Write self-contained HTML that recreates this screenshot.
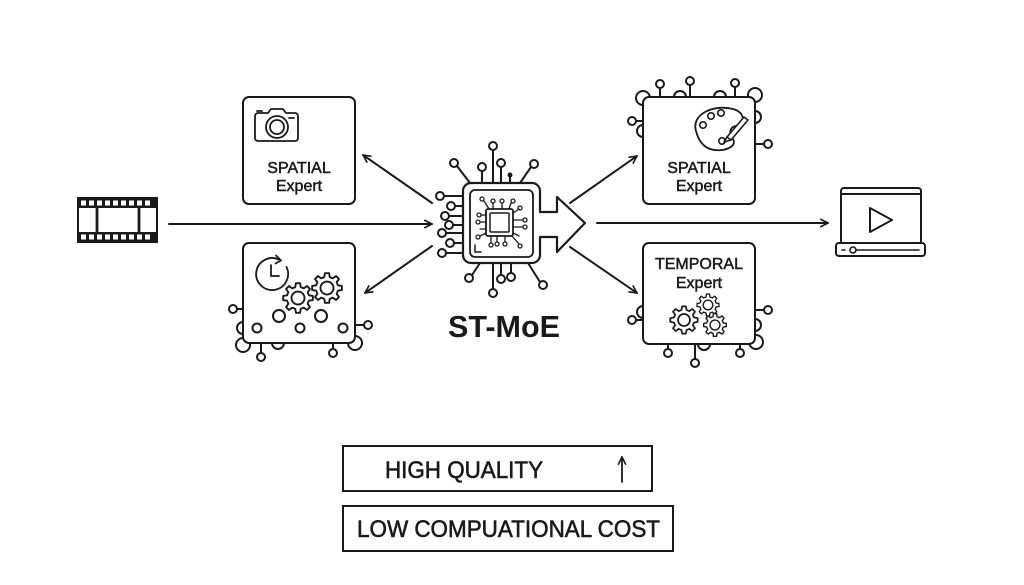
<!DOCTYPE html>
<html><head><meta charset="utf-8"><style>
html,body{margin:0;padding:0;background:#fff;}
svg{display:block;}
text{font-family:"Liberation Sans",sans-serif;fill:#1a1a1a;}
</style></head><body>
<svg width="1024" height="585" viewBox="0 0 1024 585" xmlns="http://www.w3.org/2000/svg">
<defs>
<marker id="ah" viewBox="0 0 10 10" refX="9" refY="5" markerWidth="9" markerHeight="9" markerUnits="userSpaceOnUse" orient="auto">
<path d="M1,1 L9,5 L1,9" fill="none" stroke="#1a1a1a" stroke-width="1.8" stroke-linecap="round" stroke-linejoin="round"/>
</marker>
<g id="gear">
<polygon points="8.73,-2.18 11.88,-1.67 11.88,1.67 8.73,2.18 7.71,4.64 9.58,7.22 7.22,9.58 4.64,7.71 2.18,8.73 1.67,11.88 -1.67,11.88 -2.18,8.73 -4.64,7.71 -7.22,9.58 -9.58,7.22 -7.71,4.64 -8.73,2.18 -11.88,1.67 -11.88,-1.67 -8.73,-2.18 -7.71,-4.64 -9.58,-7.22 -7.22,-9.58 -4.64,-7.71 -2.18,-8.73 -1.67,-11.88 1.67,-11.88 2.18,-8.73 4.64,-7.71 7.22,-9.58 9.58,-7.22 7.71,-4.64" fill="#fff" stroke="#1a1a1a" stroke-width="1.5" stroke-linejoin="round"/>
<circle cx="0" cy="0" r="5.2" fill="#fff" stroke="#1a1a1a" stroke-width="1.5"/>
</g>
</defs>

<g fill="none" stroke="#1a1a1a" stroke-width="2" stroke-linecap="round">

<!-- Film strip -->
<rect x="78" y="198" width="79" height="44" fill="#fff" stroke-width="2"/>
<rect x="78" y="198" width="79" height="10" fill="#1a1a1a" stroke="none"/>
<rect x="78" y="232" width="79" height="10" fill="#1a1a1a" stroke="none"/>
<g fill="#fff" stroke="none">
<rect x="81" y="200.5" width="5" height="5"/><rect x="89" y="200.5" width="5" height="5"/><rect x="97" y="200.5" width="5" height="5"/><rect x="105" y="200.5" width="5" height="5"/><rect x="113" y="200.5" width="5" height="5"/><rect x="121" y="200.5" width="5" height="5"/><rect x="129" y="200.5" width="5" height="5"/><rect x="137" y="200.5" width="5" height="5"/><rect x="145" y="200.5" width="5" height="5"/>
<rect x="81" y="234.5" width="5" height="5"/><rect x="89" y="234.5" width="5" height="5"/><rect x="97" y="234.5" width="5" height="5"/><rect x="105" y="234.5" width="5" height="5"/><rect x="113" y="234.5" width="5" height="5"/><rect x="121" y="234.5" width="5" height="5"/><rect x="129" y="234.5" width="5" height="5"/><rect x="137" y="234.5" width="5" height="5"/><rect x="145" y="234.5" width="5" height="5"/>
</g>
<line x1="97" y1="208" x2="97" y2="232" stroke-width="2.8"/>
<line x1="139" y1="208" x2="139" y2="232" stroke-width="2.8"/>

<!-- Arrows -->
<line x1="169" y1="224" x2="432" y2="224" marker-end="url(#ah)"/>
<line x1="432" y1="203" x2="363" y2="155" marker-end="url(#ah)"/>
<line x1="432" y1="246" x2="365" y2="293" marker-end="url(#ah)"/>
<line x1="570" y1="203" x2="637" y2="156" marker-end="url(#ah)"/>
<line x1="570" y1="247" x2="637" y2="293" marker-end="url(#ah)"/>
<line x1="597" y1="223" x2="828" y2="223" marker-end="url(#ah)"/>

<!-- Top-left SPATIAL box -->
<rect x="243" y="97" width="112" height="107" rx="6" fill="#fff"/>
<!-- camera -->
<path d="M255,116 a3,3 0 0 1 3,-3 h10 l3,-4 h12 l3,4 h9 a3,3 0 0 1 3,3 v22 a3,3 0 0 1 -3,3 h-37 a3,3 0 0 1 -3,-3 z" stroke-width="1.8" stroke-linejoin="round"/>
<line x1="257" y1="111" x2="262" y2="111" stroke-width="1.8"/>
<circle cx="277" cy="127" r="11" stroke-width="1.8"/>
<circle cx="277" cy="127" r="7" stroke-width="1.8"/>
<line x1="289" y1="118" x2="294" y2="118" stroke-width="1.8"/>

<!-- Bottom-left TEMPORAL box decorations (outside) -->
<line x1="237" y1="309" x2="243" y2="309"/>
<circle cx="233" cy="309" r="4" fill="#fff"/>
<circle cx="243" cy="328" r="6" fill="#fff"/>
<circle cx="243" cy="345" r="7" fill="#fff"/>
<line x1="261" y1="343" x2="261" y2="353"/>
<circle cx="261" cy="357" r="4" fill="#fff"/>
<circle cx="278" cy="343" r="6" fill="#fff"/>
<line x1="333" y1="343" x2="333" y2="349"/>
<circle cx="333" cy="353" r="4" fill="#fff"/>
<circle cx="355" cy="343" r="7" fill="#fff"/>
<line x1="355" y1="325" x2="364" y2="325"/>
<circle cx="368" cy="325" r="4" fill="#fff"/>
<rect x="243" y="243" width="112" height="100" rx="6" fill="#fff"/>
<!-- clock -->
<path d="M286.5,267 A16,16 0 1 1 278.8,259.5" stroke-width="1.8"/>
<path d="M276,255.5 L281,260.5 L275.5,263.5" stroke-width="1.8" stroke-linejoin="round"/>
<path d="M271,265 V276 H279" stroke-width="1.8" stroke-linejoin="round"/>
<use href="#gear" transform="translate(298,298) scale(1.25)"/>
<use href="#gear" transform="translate(327,288) scale(1.25)"/>
<circle cx="279" cy="316" r="6"/>
<circle cx="321" cy="316" r="6"/>
<circle cx="257" cy="328" r="4.5"/>
<circle cx="300" cy="328" r="4.5"/>
<circle cx="343" cy="328" r="4.5"/>

<!-- Top-right SPATIAL box decorations -->
<line x1="660" y1="88" x2="660" y2="97"/>
<circle cx="660" cy="84" r="4" fill="#fff"/>
<line x1="690" y1="85" x2="690" y2="97"/>
<circle cx="690" cy="81" r="4" fill="#fff"/>
<line x1="735" y1="87" x2="735" y2="97"/>
<circle cx="735" cy="83" r="4" fill="#fff"/>
<circle cx="643" cy="98" r="7" fill="#fff"/>
<circle cx="680" cy="97" r="6" fill="#fff"/>
<circle cx="720" cy="97" r="6" fill="#fff"/>
<circle cx="755" cy="95" r="7" fill="#fff"/>
<line x1="636" y1="121" x2="643" y2="121"/>
<circle cx="632" cy="121" r="4" fill="#fff"/>
<circle cx="643" cy="131" r="6" fill="#fff"/>
<circle cx="755" cy="117" r="6" fill="#fff"/>
<line x1="755" y1="144" x2="764" y2="144"/>
<circle cx="768" cy="144" r="4" fill="#fff"/>
<rect x="643" y="97" width="112" height="107" rx="6" fill="#fff"/>
<!-- palette -->
<path d="M696,131 C691,114 714,104 733,109 C745,112 746,124 736,126 C729,127 729,134 733,139 C738,147 722,153 710,149 C702,146 698,139 696,131 Z" stroke-width="1.8"/>
<circle cx="703" cy="125" r="3.2" stroke-width="1.6"/>
<circle cx="711" cy="116" r="3.2" stroke-width="1.6"/>
<circle cx="721" cy="113" r="3.2" stroke-width="1.6"/>
<circle cx="722" cy="141" r="3.2" stroke-width="1.6"/>
<path d="M727,137 L744,117 L748,120 L731,140 Z" stroke-width="1.6" stroke-linejoin="round" fill="#fff"/>
<path d="M727,137 L724,142 L731,140" stroke-width="1.6" stroke-linejoin="round"/>

<!-- Bottom-right TEMPORAL box decorations -->
<line x1="636" y1="320" x2="643" y2="320"/>
<circle cx="632" cy="320" r="4" fill="#fff"/>
<circle cx="643" cy="312" r="6" fill="#fff"/>
<line x1="755" y1="310" x2="764" y2="310"/>
<circle cx="768" cy="310" r="4" fill="#fff"/>
<circle cx="755" cy="325" r="6" fill="#fff"/>
<circle cx="756" cy="342" r="7" fill="#fff"/>
<line x1="668" y1="344" x2="668" y2="349"/>
<circle cx="668" cy="353" r="4" fill="#fff"/>
<line x1="695" y1="344" x2="695" y2="359"/>
<circle cx="695" cy="363" r="4" fill="#fff"/>
<circle cx="704" cy="344" r="6" fill="#fff"/>
<line x1="740" y1="344" x2="740" y2="349"/>
<circle cx="740" cy="353" r="4" fill="#fff"/>
<rect x="643" y="243" width="112" height="101" rx="6" fill="#fff"/>
<use href="#gear" transform="translate(708,305) scale(0.92)"/>
<use href="#gear" transform="translate(684,320) scale(1.15)"/>
<use href="#gear" transform="translate(715,325) scale(0.95)"/>

<!-- Monitor -->
<rect x="841" y="188" width="80" height="56" rx="3"/>
<line x1="841" y1="194" x2="921" y2="194"/>
<rect x="836" y="243" width="89" height="13" rx="3" fill="#fff"/>
<line x1="842" y1="250" x2="845" y2="250" stroke-width="1.6"/>
<circle cx="853" cy="250" r="3" stroke-width="1.6"/>
<line x1="856" y1="250" x2="919" y2="250" stroke-width="1.6"/>
<path d="M870,208 L892,220 L870,232 Z" stroke-linejoin="round"/>

<!-- Chip pins (outer) -->
<line x1="493" y1="150" x2="493" y2="183"/><circle cx="493" cy="146" r="4" fill="#fff"/>
<line x1="457" y1="166" x2="470" y2="183"/><circle cx="454" cy="163" r="4" fill="#fff"/>
<line x1="482" y1="171" x2="482" y2="183"/><circle cx="482" cy="167" r="4" fill="#fff"/>
<line x1="501" y1="167" x2="501" y2="183"/><circle cx="501" cy="163" r="4" fill="#fff"/>
<line x1="510" y1="176" x2="510" y2="183"/><circle cx="510" cy="175" r="1.5" fill="#1a1a1a"/>
<line x1="531" y1="167" x2="520" y2="183"/><circle cx="534" cy="164" r="4" fill="#fff"/>
<line x1="444" y1="196" x2="463" y2="196"/><circle cx="440" cy="196" r="4" fill="#fff"/>
<line x1="455" y1="206" x2="463" y2="206"/><circle cx="451" cy="206" r="4" fill="#fff"/>
<line x1="449" y1="216" x2="463" y2="216"/><circle cx="445" cy="216" r="4" fill="#fff"/>
<line x1="453" y1="225" x2="463" y2="225"/><circle cx="449" cy="225" r="4" fill="#fff"/>
<line x1="446" y1="233" x2="463" y2="233"/><circle cx="442" cy="233" r="4" fill="#fff"/>
<line x1="454" y1="243" x2="463" y2="243"/><circle cx="450" cy="243" r="4" fill="#fff"/>
<line x1="446" y1="253" x2="463" y2="253"/><circle cx="442" cy="253" r="4" fill="#fff"/>
<line x1="472" y1="275" x2="480" y2="263"/><circle cx="469" cy="278" r="4" fill="#fff"/>
<line x1="493" y1="263" x2="493" y2="289"/><circle cx="493" cy="293" r="4" fill="#fff"/>
<line x1="501" y1="263" x2="501" y2="275"/><circle cx="501" cy="279" r="4" fill="#fff"/>
<line x1="511" y1="263" x2="511" y2="273"/><circle cx="511" cy="277" r="4" fill="#fff"/>
<line x1="540" y1="282" x2="528" y2="263"/><circle cx="543" cy="285" r="4" fill="#fff"/>

<!-- Chip body with arrow -->
<path d="M540,212 V191 a8,8 0 0 0 -8,-8 H471 a8,8 0 0 0 -8,8 V255 a8,8 0 0 0 8,8 H532 a8,8 0 0 0 8,-8 V237 H557 V252 L585,223 L557,197 V212 Z" fill="#fff" stroke-width="2.2" stroke-linejoin="round"/>
<rect x="470" y="190" width="63" height="67" rx="5" stroke-width="1.8"/>
<rect x="486" y="209" width="27" height="27" rx="2" stroke-width="1.8"/>
<rect x="490" y="213" width="19" height="19" rx="1" stroke-width="1.5"/>
<path d="M475,245 V252 H481" stroke-width="1.5"/>
<g stroke-width="1.3">
<line x1="484" y1="201" x2="489" y2="209"/><circle cx="482" cy="199" r="2"/>
<line x1="493" y1="203" x2="493" y2="209"/><circle cx="493" cy="201" r="2"/>
<line x1="502" y1="203" x2="502" y2="209"/><circle cx="502" cy="201" r="2"/>
<line x1="511" y1="203" x2="509" y2="209"/><circle cx="513" cy="201" r="2"/>
<line x1="481" y1="215" x2="486" y2="215"/><circle cx="479" cy="215" r="2"/>
<line x1="480" y1="222" x2="486" y2="222"/><circle cx="478" cy="222" r="2"/>
<line x1="480" y1="229" x2="486" y2="229"/>
<line x1="480" y1="236" x2="486" y2="233"/><circle cx="478" cy="237" r="2"/>
<line x1="513" y1="213" x2="519" y2="209"/><circle cx="520" cy="208" r="2"/>
<line x1="513" y1="220" x2="523" y2="220"/><circle cx="525" cy="220" r="2"/>
<line x1="513" y1="227" x2="523" y2="227"/><circle cx="525" cy="227" r="2"/>
<line x1="513" y1="233" x2="519" y2="236"/>
<line x1="491" y1="236" x2="491" y2="243"/><circle cx="491" cy="245" r="2"/>
<line x1="497" y1="236" x2="497" y2="242"/><circle cx="497" cy="244" r="2"/>
<line x1="505" y1="236" x2="505" y2="242"/><circle cx="505" cy="244" r="2"/>
<line x1="512" y1="236" x2="519" y2="244"/><circle cx="520" cy="246" r="2"/>
</g>

<!-- Bottom boxes -->
<rect x="343" y="446" width="309" height="45" stroke-width="2"/>
<rect x="343" y="506" width="330" height="45" stroke-width="2"/>
<line x1="622" y1="482" x2="622" y2="457" stroke-width="1.8" marker-end="url(#ah)"/>
</g>

<!-- Texts -->
<g font-size="16" text-anchor="middle" stroke="#1a1a1a" stroke-width="0.5">
<text x="299" y="173">SPATIAL</text>
<text x="299" y="191">Expert</text>
<text x="699" y="173">SPATIAL</text>
<text x="699" y="191">Expert</text>
<text x="699" y="269">TEMPORAL</text>
<text x="699" y="288">Expert</text>
</g>
<text x="504" y="337" font-size="31" font-weight="bold" text-anchor="middle" textLength="112" lengthAdjust="spacingAndGlyphs">ST-MoE</text>
<text x="385" y="478" font-size="24" textLength="158" lengthAdjust="spacingAndGlyphs" stroke="#1a1a1a" stroke-width="0.6">HIGH QUALITY</text>
<text x="357" y="537" font-size="24" textLength="303" lengthAdjust="spacingAndGlyphs" stroke="#1a1a1a" stroke-width="0.6">LOW COMPUATIONAL COST</text>
</svg>
</body></html>
